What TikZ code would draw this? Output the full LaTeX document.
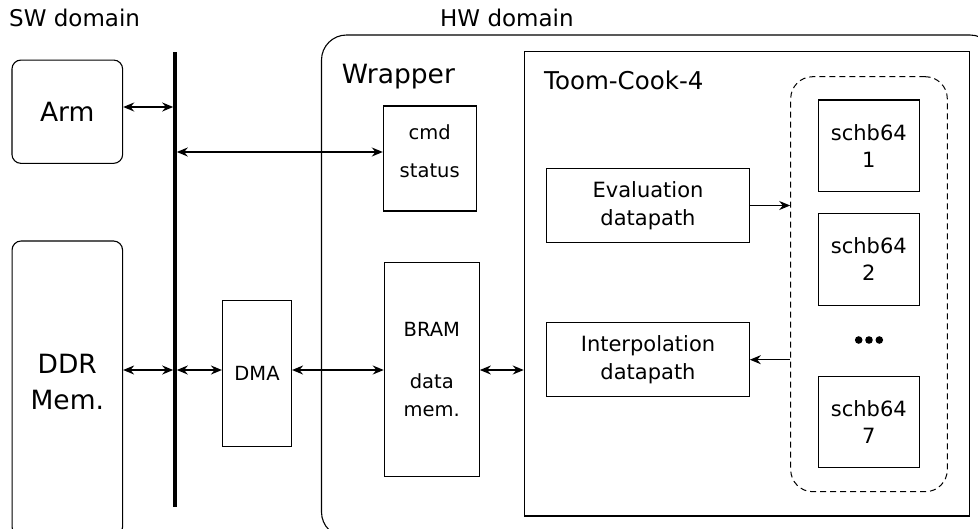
\documentclass[tikz,border=0pt]{standalone}
\usepackage{fontspec}
\setmainfont{DejaVu Sans}
\usetikzlibrary{arrows.meta}
\begin{document}
\begin{tikzpicture}[x=1pt,y=-1pt,
  box/.style={draw, line width=1.1pt, inner sep=0pt, align=center},
  rbox/.style={box, rounded corners=9pt},
  tip/.tip={Stealth[length=11pt,width=9pt]},
  biarrow/.style={line width=1.5pt, tip-tip},
  onearrow/.style={line width=1.5pt, -tip},
  fs/.style 2 args={font=\fontsize{#1}{#2}\selectfont}
]
\useasboundingbox (0,0) rectangle (978,528);
\clip (0,0) rectangle (978,528);

% domain captions
\node[fs={23}{27}, anchor=base west, inner sep=0pt] (sw) at (9,26) {SW domain};
\node[fs={23}{27}, anchor=base west, inner sep=0pt] (hw) at (440,26) {HW domain};

% software side
\node[rbox, minimum width=110.7pt, minimum height=103.3pt, fs={26.5}{32}] (arm) at (67.3,111.7) {Arm};
\node[rbox, minimum width=110.5pt, minimum height=295pt] (ddr) at (67.3,388.5) {};
\node[fs={26.5}{36}, align=center, inner sep=0pt] (ddrtext) at (67.3,382.3) {DDR\\Mem.};
\node[fill, inner sep=0pt, minimum width=3.2pt, minimum height=455pt] (bus) at (175,279.5) {};
\node[box, minimum width=69pt, minimum height=146.4pt, fs={19.5}{24}] (dma) at (257,373.5) {DMA};

% wrapper
\node[box, rounded corners=25pt, minimum width=673.5pt, minimum height=502pt] (wrapper) at (658.25,286) {};
\node[fs={26.5}{32}, anchor=base west, inner sep=0pt] (wraplabel) at (341.7,83) {Wrapper};
\node[box, minimum width=92.7pt, minimum height=105pt] (cmd) at (429.7,158.5) {};
\node[fs={19.5}{37.5}, align=center, inner sep=0pt] (cmdtext) at (429.7,151) {cmd\\status};
\node[box, minimum width=95pt, minimum height=214pt, fs={19.5}{28}] (bram) at (431.8,369.4) {BRAM\\[24pt]data\\mem.};

% Toom-Cook core
\node[box, minimum width=445pt, minimum height=464.3pt] (toom) at (746.8,283.85) {};
\node[fs={24.5}{30}, anchor=base west, inner sep=0pt] (toomlabel) at (544,89) {Toom-Cook-4};
\node[box, minimum width=202.6pt, minimum height=73.6pt, fs={21}{27.5}] (eval) at (648,205.5) {Evaluation\\datapath};
\node[box, minimum width=202.6pt, minimum height=74pt, fs={21}{27.5}] (interp) at (648,359.7) {Interpolation\\datapath};

% schoolbook multiplier group
\node[draw, line width=1pt, dash pattern=on 6pt off 4pt, rounded corners=22pt, inner sep=0pt,
      minimum width=156.6pt, minimum height=415pt] (group) at (869,284.2) {};
\node[box, minimum width=101pt, minimum height=91.7pt, fs={21}{26.7}] (s1) at (868.8,145.8) {schb64\\1};
\node[box, minimum width=101pt, minimum height=91.7pt, fs={21}{26.7}] (s2) at (868.8,259.2) {schb64\\2};
\node[box, minimum width=101pt, minimum height=91.3pt, fs={21}{26.7}] (s7) at (868.8,421.7) {schb64\\7};
\coordinate (dots) at (869,340);
\foreach \dx in {-10.3,0,10.3} \fill ([xshift=\dx pt]dots) circle (3.8pt);

% connectors
\coordinate (armrow) at (0,107);
\coordinate (cmdrow) at (0,152);
\coordinate (datarow) at (0,370);
\draw[biarrow] (arm.east |- armrow) -- (bus.west |- armrow);
\draw[biarrow] (bus.east |- cmdrow) -- (cmd.west |- cmdrow);
\draw[biarrow] (ddr.east |- datarow) -- (bus.west |- datarow);
\draw[biarrow] (bus.east |- datarow) -- (dma.west |- datarow);
\draw[biarrow] (dma.east |- datarow) -- (bram.west |- datarow);
\draw[biarrow] (bram.east |- datarow) -- (toom.west |- datarow);
\draw[onearrow] (eval.east) -- (eval.east -| group.west);
\draw[onearrow] (interp.east -| group.west) -- (interp.east);
\end{tikzpicture}
\end{document}
